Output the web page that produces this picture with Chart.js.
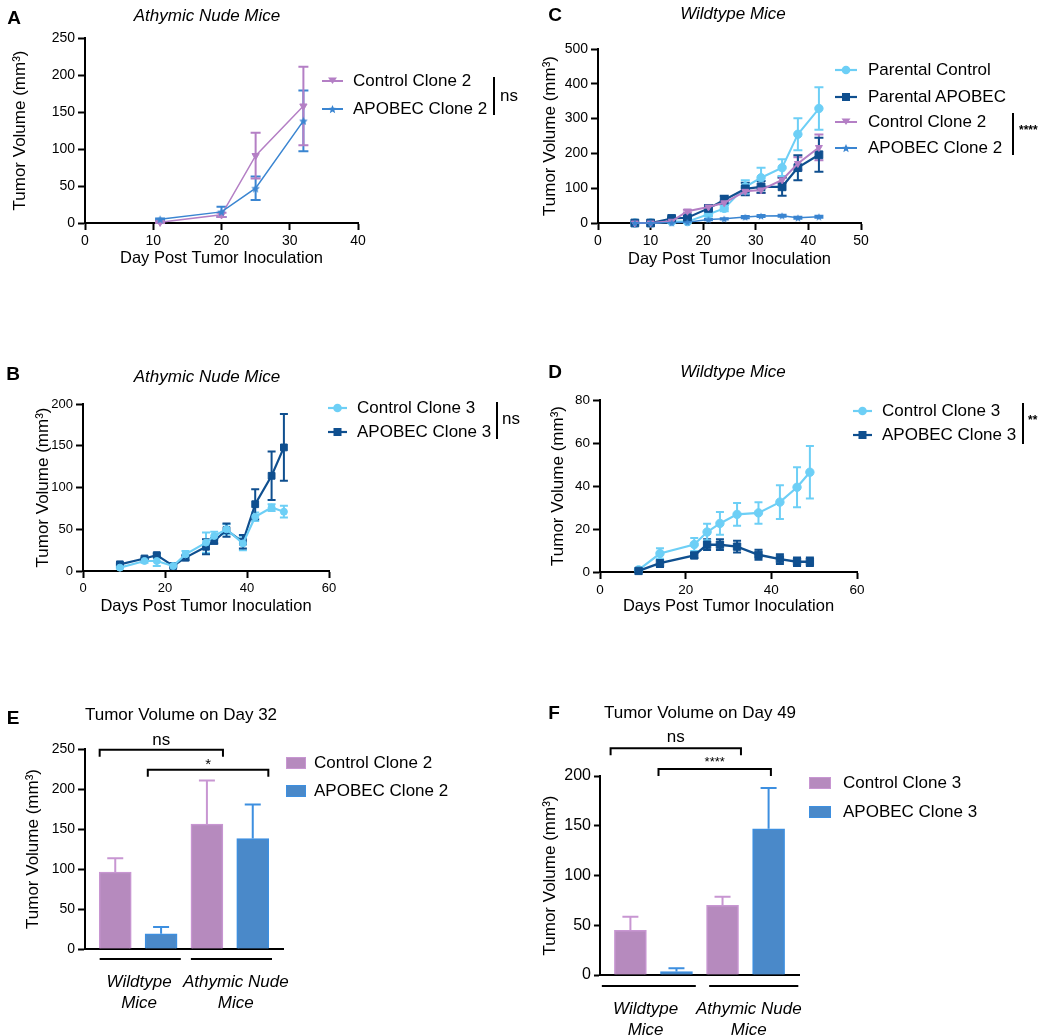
<!DOCTYPE html>
<html>
<head>
<meta charset="utf-8">
<script src="https://cdn.jsdelivr.net/npm/chart.js@4.4.1/dist/chart.umd.min.js"></script>
<style>
  body { margin: 0; background: #fff; }
  #page { position: relative; width: 1050px; height: 1035px; overflow: hidden;
          font-family: "Liberation Sans", Arial, Helvetica, sans-serif; color: #000; }
  #page canvas { position: absolute; }
  .lbl { position: absolute; white-space: nowrap; line-height: 1.15; transform: translate(-50%, -50%); }
  .lbl.left { transform: translate(0, -50%); }
  .vbar { position: absolute; width: 2px; background: #000; }
  .mk { position: absolute; }
</style>
</head>
<body>
<div id="page"></div>
<script>
// ---- data ------------------------------------------------------------

// A: athymic nude mice, clone 2
const daysA = [11, 20, 25, 32];
const ctrlClone2Nude = [1, 11, 91, 158];
const ctrlClone2NudeSem = [1, 3, 31, 53];
const apobecClone2Nude = [5, 15, 47, 138];
const apobecClone2NudeSem = [1, 7, 16, 41];
const xTicksA = [0, 10, 20, 30, 40];
const yTicksA = [0, 50, 100, 150, 200, 250];

// C: wildtype mice, parental + clone 2
const daysC = [7, 10, 14, 17, 21, 24, 28, 31, 35, 38, 42];
const parentalControl = [0, 0, 4, 4, 25, 42, 104, 130, 159, 255, 329];
const parentalControlSem = [0, 0, 2, 2, 5, 8, 19, 29, 24, 46, 61];
const parentalApobec = [0, 0, 13, 15, 42, 66, 98, 104, 104, 159, 196];
const parentalApobecSem = [0, 0, 3, 3, 6, 12, 18, 17, 26, 36, 49];
const ctrlClone2Wt = [0, 0, 5, 34, 46, 58, 91, 95, 124, 171, 217];
const ctrlClone2WtSem = [0, 0, 2, 4, 6, 6, 9, 9, 9, 18, 37];
const apobecClone2Wt = [0, 0, 1, 2, 10, 12, 17, 20, 21, 15, 18];
const apobecClone2WtSem = [0, 0, 0, 1, 2, 2, 3, 3, 3, 3, 3];
const xTicksC = [0, 10, 20, 30, 40, 50];
const yTicksC = [0, 100, 200, 300, 400, 500];

// B: athymic nude mice, clone 3
const daysB = [9, 15, 18, 22, 25, 30, 32, 35, 39, 42, 46, 49];
const ctrlClone3Nude = [4, 12, 12, 6, 20, 34, 42, 50, 33, 65, 76, 71];
const ctrlClone3NudeSem = [1, 2, 6, 1, 4, 12, 5, 6, 8, 5, 4, 7];
const apobecClone3Nude = [8, 15, 19, 6, 16, 29, 36, 49, 35, 80, 114, 148];
const apobecClone3NudeSem = [1, 1, 2, 1, 3, 9, 3, 8, 8, 18, 29, 40];
const xTicksB = [0, 20, 40, 60];
const yTicksB = [0, 50, 100, 150, 200];

// D: wildtype mice, clone 3
const daysD = [9, 14, 22, 25, 28, 32, 37, 42, 46, 49];
const ctrlClone3Wt = [1, 8.6, 12.8, 18.6, 22.6, 26.8, 27.5, 32.5, 39.4, 46.4];
const ctrlClone3WtSem = [0.5, 2.4, 3, 3.8, 5.3, 5.3, 5, 7.8, 9.3, 12.2];
const apobecClone3Wt = [0.5, 4.1, 7.7, 12.7, 12.7, 11.8, 8, 6, 4.8, 4.8];
const apobecClone3WtSem = [0.3, 1.8, 1.2, 2.5, 2.5, 2.7, 2.3, 2.3, 2, 2];
const xTicksD = [0, 20, 40, 60];
const yTicksD = [0, 20, 40, 60, 80];

// E / F: end point volumes, [wildtype, athymic nude]
const hostGroups = [['Wildtype', 'Mice'], ['Athymic Nude', 'Mice']];
const day32Control = [96, 156];
const day32ControlSem = [17.5, 54.5];
const day32Apobec = [19, 138];
const day32ApobecSem = [8.5, 42.5];
const day49Control = [45, 70];
const day49ControlSem = [13.5, 8.7];
const day49Apobec = [3.5, 147];
const day49ApobecSem = [3.2, 41];
const yTicksE = [0, 50, 100, 150, 200, 250];
const yTicksF = [0, 50, 100, 150, 200];

// ---- style -----------------------------------------------------------
const FONT = '"Liberation Sans", Arial, Helvetica, sans-serif';
const LIGHT = '#6dcff6';
const NAVY = '#0f4f8f';
const PURPLE = '#b47fc5';
const BLUE = '#3a85d1';
const BAR_PURPLE = '#b68abe', BAR_PURPLE_EDGE = '#c896d2';
const BAR_BLUE = '#4a89c9', BAR_BLUE_EDGE = '#3d8fe0';
const YTITLE = 'Tumor Volume (mm³)';

Chart.defaults.font.family = FONT;
Chart.defaults.color = '#000';

const page = document.getElementById('page');

function starImage(color, size) {
  const c = document.createElement('canvas');
  c.width = c.height = size;
  const g = c.getContext('2d');
  g.fillStyle = color;
  g.beginPath();
  starPath(size / 2, size / 2 + 0.5, size / 2).forEach(([x, y], i) => i ? g.lineTo(x, y) : g.moveTo(x, y));
  g.closePath();
  g.fill();
  return c;
}

function starPath(cx, cy, r) {
  const pts = [];
  for (let i = 0; i < 10; i++) {
    const a = -Math.PI / 2 + i * Math.PI / 5;
    const rr = i % 2 ? r * 0.45 : r;
    pts.push([cx + rr * Math.cos(a), cy + rr * Math.sin(a)]);
  }
  return pts;
}

// error bars (SEM) drawn under the marks
const errorBars = {
  id: 'errorBars',
  beforeDatasetsDraw(chart) {
    const ctx = chart.ctx;
    const ys = chart.scales.y;
    chart.data.datasets.forEach((ds, i) => {
      if (!ds.errors) return;
      const meta = chart.getDatasetMeta(i);
      ctx.save();
      ctx.strokeStyle = ds.errorColor || ds.borderColor;
      ctx.lineWidth = ds.errorWidth || 2;
      meta.data.forEach((el, j) => {
        const e = ds.errors[j];
        if (!e) return;
        const v = ds.data[j].y;
        const top = ys.getPixelForValue(v + e);
        const bot = ds.upOnly ? ys.getPixelForValue(v) : ys.getPixelForValue(v - e);
        const cap = ds.capWidth / 2;
        ctx.beginPath();
        ctx.moveTo(el.x, top); ctx.lineTo(el.x, bot);
        ctx.moveTo(el.x - cap, top); ctx.lineTo(el.x + cap, top);
        if (!ds.upOnly) { ctx.moveTo(el.x - cap, bot); ctx.lineTo(el.x + cap, bot); }
        ctx.stroke();
      });
      ctx.restore();
    });
  }
};

function addCanvas(panel) {
  const c = document.createElement('canvas');
  c.width = panel.w;
  c.height = panel.h;
  c.style.left = panel.x + 'px';
  c.style.top = panel.y + 'px';
  page.appendChild(c);
  return c;
}

function axisBase(size, tickLen, pad) {
  return {
    border: { display: true, color: '#000', width: 2 },
    grid: { display: true, drawOnChartArea: false, drawTicks: true, tickLength: tickLen, tickWidth: 2, tickColor: '#000' },
    ticks: { color: '#000', padding: pad, font: { size } }
  };
}

function yAxis(p, ticks) {
  const y = axisBase(p.tickSize, p.tickLen || 7, p.tickPad || 3);
  y.min = ticks[0];
  y.max = ticks[ticks.length - 1];
  y.ticks.stepSize = ticks[1] - ticks[0];
  y.title = { display: true, text: YTITLE, font: { size: 17 },
              padding: { top: p.yTitleX - p.panel.x - 17 * 1.2 / 2, bottom: 0 } };
  y.afterFit = s => { s.width = p.area.l - p.panel.x; };
  return y;
}

function lineSeries(label, days, vals, sems, color, marker, size, width, cap) {
  const ds = {
    label,
    data: days.map((d, i) => ({ x: d, y: vals[i] })),
    errors: sems,
    borderColor: color, backgroundColor: color,
    pointBackgroundColor: color, pointBorderColor: color, pointBorderWidth: 1,
    borderWidth: width, errorWidth: 2, capWidth: cap,
    pointRadius: size, clip: false, tension: 0
  };
  if (marker === 'star') ds.pointStyle = starImage(color, Math.round(size * 2.2));
  else if (marker === 'triDown') { ds.pointStyle = 'triangle'; ds.pointRotation = 180; }
  else if (marker === 'square') ds.pointStyle = 'rect';
  else ds.pointStyle = 'circle';
  return ds;
}

function makeLineChart(p) {
  const x = axisBase(p.tickSize, 7, 3);
  x.type = 'linear';
  x.min = p.xTicks[0];
  x.max = p.xTicks[p.xTicks.length - 1];
  x.ticks.stepSize = p.xTicks[1] - p.xTicks[0];
  x.ticks.maxRotation = 0;
  x.title = { display: true, text: p.xTitle, font: { size: 16.5 },
              padding: { top: 0, bottom: p.panel.y + p.panel.h - p.xTitleY - 16.5 * 1.2 / 2 } };
  x.afterFit = s => { s.height = p.panel.y + p.panel.h - p.area.b; };

  return new Chart(addCanvas(p.panel), {
    type: 'line',
    data: { datasets: p.datasets },
    options: {
      responsive: false, animation: false, events: [],
      layout: { padding: { left: 0, top: p.area.t - p.panel.y, right: p.panel.x + p.panel.w - p.area.r, bottom: 0 } },
      plugins: { legend: { display: false }, tooltip: { enabled: false } },
      scales: { x, y: yAxis(p, p.yTicks) }
    },
    plugins: [errorBars]
  });
}

// comparison brackets and group underlines for the bar panels
function barExtras(p) {
  return {
    id: 'barExtras',
    afterDraw(chart) {
      const { ctx, scales: { x, y } } = chart;
      ctx.save();
      ctx.strokeStyle = '#000';
      ctx.fillStyle = '#000';
      ctx.lineWidth = 2;
      p.brackets.forEach(b => {
        const x1 = x.getPixelForValue(b.from), x2 = x.getPixelForValue(b.to);
        const yy = y.getPixelForValue(b.level);
        ctx.beginPath();
        ctx.moveTo(x1, yy + 7); ctx.lineTo(x1, yy); ctx.lineTo(x2, yy); ctx.lineTo(x2, yy + 7);
        ctx.stroke();
        ctx.font = `${b.size}px ${FONT}`;
        ctx.textAlign = 'center';
        ctx.textBaseline = 'alphabetic';
        ctx.fillText(b.text, (x1 + x2) / 2, yy - b.gap);
      });
      const yy = chart.chartArea.bottom + p.underlineGap;
      p.underlines.forEach(([a, b]) => {
        ctx.beginPath();
        ctx.moveTo(x.getPixelForValue(a), yy);
        ctx.lineTo(x.getPixelForValue(b), yy);
        ctx.stroke();
      });
      ctx.restore();
    }
  };
}

function makeBarChart(p) {
  const barSet = (label, vals, sems, fill, edge, offset) => ({
    label,
    data: vals.map((v, i) => ({ x: i * 2 + offset, y: v })),
    errors: sems, upOnly: true, errorColor: edge, errorWidth: 2, capWidth: 16,
    backgroundColor: fill, borderColor: edge, borderWidth: 1.5,
    barThickness: 32, grouped: false
  });

  const x = {
    type: 'linear', min: 0.34, max: 4.66, offset: false,
    border: { display: true, color: '#000', width: 2 },
    grid: { display: false, offset: false },
    afterBuildTicks: s => { s.ticks = p.groupPos.map(v => ({ value: v })); },
    ticks: {
      color: '#000', padding: p.groupPad, autoSkip: false, maxRotation: 0, minRotation: 0,
      font: { size: 17, style: 'italic', lineHeight: 1.24 },
      callback: (v, i) => hostGroups[i]
    },
    afterFit: s => { s.height = p.panel.y + p.panel.h - p.area.b; }
  };

  return new Chart(addCanvas(p.panel), {
    type: 'bar',
    data: {
      datasets: [
        barSet(p.labels[0], p.ctrl, p.ctrlSem, BAR_PURPLE, BAR_PURPLE_EDGE, 1),
        barSet(p.labels[1], p.apobec, p.apobecSem, BAR_BLUE, BAR_BLUE_EDGE, 2)
      ]
    },
    options: {
      responsive: false, animation: false, events: [],
      layout: { padding: { left: 0, top: p.area.t - p.panel.y, right: p.panel.x + p.panel.w - p.area.r, bottom: 0 } },
      plugins: { legend: { display: false }, tooltip: { enabled: false } },
      scales: { x, y: yAxis(p, p.yTicks) }
    },
    plugins: [errorBars, barExtras(p)]
  });
}

// ---- html text and legends --------------------------------------------
function text(str, x, y, css, left) {
  const d = document.createElement('div');
  d.className = left ? 'lbl left' : 'lbl';
  d.textContent = str;
  d.style.left = x + 'px';
  d.style.top = y + 'px';
  Object.assign(d.style, css || {});
  page.appendChild(d);
  return d;
}

function vbar(x, y1, y2) {
  const d = document.createElement('div');
  d.className = 'vbar';
  d.style.left = (x - 1) + 'px';
  d.style.top = y1 + 'px';
  d.style.height = (y2 - y1) + 'px';
  page.appendChild(d);
}

function legendMarker(x1, x2, y, color, marker, lw) {
  const w = x2 - x1, cx = w / 2;
  let shape = '';
  if (marker === 'circle') shape = `<circle cx="${cx}" cy="8" r="4.3" fill="${color}"/>`;
  if (marker === 'square') shape = `<rect x="${cx - 4}" y="4" width="8" height="8" fill="${color}"/>`;
  if (marker === 'triDown') shape = `<polygon points="${cx - 4.5},4.5 ${cx + 4.5},4.5 ${cx},11" fill="${color}"/>`;
  if (marker === 'star') shape = `<polygon points="${starPath(cx, 8.5, 4.5).map(p => p.join(',')).join(' ')}" fill="${color}"/>`;
  const d = document.createElement('div');
  d.className = 'mk';
  d.style.left = x1 + 'px';
  d.style.top = (y - 8) + 'px';
  d.innerHTML = `<svg width="${w}" height="16"><line x1="0" y1="8" x2="${w}" y2="8" stroke="${color}" stroke-width="${lw}"/>${shape}</svg>`;
  page.appendChild(d);
}

function lineLegend(items, lx1, lx2, tx, ys) {
  items.forEach((it, i) => {
    legendMarker(lx1, lx2, ys[i], it.color, it.marker, it.lw);
    text(it.label, tx, ys[i], { fontSize: '17px' }, true);
  });
}

function swatch(x1, x2, y, fill, edge) {
  const d = document.createElement('div');
  d.className = 'mk';
  Object.assign(d.style, { left: x1 + 'px', top: (y - 6.5) + 'px', width: (x2 - x1 - 3) + 'px', height: '10px',
                           background: fill, border: '1.5px solid ' + edge });
  page.appendChild(d);
}

// ---- panels ----------------------------------------------------------
makeLineChart({
  panel: { x: 0, y: 0, w: 525, h: 275 }, area: { l: 85, t: 38, r: 358, b: 223 },
  xTicks: xTicksA, yTicks: yTicksA, tickSize: 14,
  xTitle: 'Day Post Tumor Inoculation', xTitleY: 258, yTitleX: 20,
  datasets: [
    lineSeries('APOBEC Clone 2', daysA, apobecClone2Nude, apobecClone2NudeSem, BLUE, 'star', 4, 1.5, 10),
    lineSeries('Control Clone 2', daysA, ctrlClone2Nude, ctrlClone2NudeSem, PURPLE, 'triDown', 4.2, 1.5, 10)
  ]
});

makeLineChart({
  panel: { x: 525, y: 0, w: 525, h: 275 }, area: { l: 598, t: 49, r: 861, b: 223 },
  xTicks: xTicksC, yTicks: yTicksC, tickSize: 14,
  xTitle: 'Day Post Tumor Inoculation', xTitleY: 259, yTitleX: 550,
  datasets: [
    lineSeries('APOBEC Clone 2', daysC, apobecClone2Wt, apobecClone2WtSem, BLUE, 'star', 3.8, 1.5, 9),
    lineSeries('Control Clone 2', daysC, ctrlClone2Wt, ctrlClone2WtSem, PURPLE, 'triDown', 4, 2, 9),
    lineSeries('Parental APOBEC', daysC, parentalApobec, parentalApobecSem, NAVY, 'square', 5.5, 2.2, 9),
    lineSeries('Parental Control', daysC, parentalControl, parentalControlSem, LIGHT, 'circle', 4.2, 2, 9)
  ]
});

makeLineChart({
  panel: { x: 0, y: 380, w: 525, h: 240 }, area: { l: 83, t: 404, r: 329, b: 571 },
  xTicks: xTicksB, yTicks: yTicksB, tickSize: 13,
  xTitle: 'Days Post Tumor Inoculation', xTitleY: 606, yTitleX: 43,
  datasets: [
    lineSeries('Control Clone 3', daysB, ctrlClone3Nude, ctrlClone3NudeSem, LIGHT, 'circle', 3.5, 2.2, 8),
    lineSeries('APOBEC Clone 3', daysB, apobecClone3Nude, apobecClone3NudeSem, NAVY, 'square', 4.8, 2.2, 8)
  ]
});

makeLineChart({
  panel: { x: 525, y: 380, w: 525, h: 240 }, area: { l: 600, t: 400, r: 857, b: 572 },
  xTicks: xTicksD, yTicks: yTicksD, tickSize: 13.5,
  xTitle: 'Days Post Tumor Inoculation', xTitleY: 606, yTitleX: 558,
  datasets: [
    lineSeries('APOBEC Clone 3', daysD, apobecClone3Wt, apobecClone3WtSem, NAVY, 'square', 5.2, 2.4, 8),
    lineSeries('Control Clone 3', daysD, ctrlClone3Wt, ctrlClone3WtSem, LIGHT, 'circle', 4.2, 2.2, 8)
  ]
});

makeBarChart({
  panel: { x: 0, y: 720, w: 525, h: 315 }, area: { l: 85, t: 749, r: 283, b: 949 },
  yTicks: yTicksE, tickSize: 14, yTitleX: 33,
  labels: ['Control Clone 2', 'APOBEC Clone 2'],
  ctrl: day32Control, ctrlSem: day32ControlSem, apobec: day32Apobec, apobecSem: day32ApobecSem,
  groupPos: [1.52, 3.63], groupPad: 14.5, underlineGap: 10,
  underlines: [[0.66, 2.43], [2.65, 4.42]],
  brackets: [
    { from: 0.66, to: 3.35, level: 249, text: 'ns', size: 17, gap: 5 },
    { from: 1.71, to: 4.34, level: 224, text: '*', size: 15, gap: 1 }
  ]
});

makeBarChart({
  panel: { x: 525, y: 720, w: 525, h: 315 }, area: { l: 600, t: 776, r: 799, b: 975 },
  yTicks: yTicksF, tickSize: 16, tickLen: 6, tickPad: 3, yTitleX: 550,
  labels: ['Control Clone 3', 'APOBEC Clone 3'],
  ctrl: day49Control, ctrlSem: day49ControlSem, apobec: day49Apobec, apobecSem: day49ApobecSem,
  groupPos: [1.33, 3.57], groupPad: 16, underlineGap: 11,
  underlines: [[0.38, 2.42], [2.71, 4.645]],
  brackets: [
    { from: 0.57, to: 3.4, level: 228, text: 'ns', size: 17, gap: 6 },
    { from: 1.61, to: 4.05, level: 207, text: '****', size: 13, gap: 3 }
  ]
});

// panel letters and titles
const letterCss = { fontSize: '19px', fontWeight: 'bold' };
text('A', 14, 18, letterCss);
text('C', 555, 15, letterCss);
text('B', 13, 374, letterCss);
text('D', 555, 372, letterCss);
text('E', 13, 718, letterCss);
text('F', 554, 713, letterCss);

const titleCss = { fontSize: '17px', fontStyle: 'italic' };
text('Athymic Nude Mice', 207, 16, titleCss);
text('Wildtype Mice', 733, 14, titleCss);
text('Athymic Nude Mice', 207, 377, titleCss);
text('Wildtype Mice', 733, 372, titleCss);
text('Tumor Volume on Day 32', 181, 715, { fontSize: '17px' });
text('Tumor Volume on Day 49', 700, 713, { fontSize: '17px' });

// legends
lineLegend([
  { label: 'Control Clone 2', color: PURPLE, marker: 'triDown', lw: 2 },
  { label: 'APOBEC Clone 2', color: BLUE, marker: 'star', lw: 2 }
], 322, 343, 353, [81, 109]);
vbar(494, 77, 115);
text('ns', 500, 96, { fontSize: '17px' }, true);

lineLegend([
  { label: 'Parental Control', color: LIGHT, marker: 'circle', lw: 2.2 },
  { label: 'Parental APOBEC', color: NAVY, marker: 'square', lw: 2.2 },
  { label: 'Control Clone 2', color: PURPLE, marker: 'triDown', lw: 2 },
  { label: 'APOBEC Clone 2', color: BLUE, marker: 'star', lw: 2 }
], 835, 857, 868, [70, 97, 122, 148]);
vbar(1013, 113, 155);
text('****', 1019, 131, { fontSize: '12px', fontWeight: 'bold' }, true);

lineLegend([
  { label: 'Control Clone 3', color: LIGHT, marker: 'circle', lw: 2.2 },
  { label: 'APOBEC Clone 3', color: NAVY, marker: 'square', lw: 2.2 }
], 328, 347, 357, [408, 432]);
vbar(497, 402, 439);
text('ns', 502, 419, { fontSize: '17px' }, true);

lineLegend([
  { label: 'Control Clone 3', color: LIGHT, marker: 'circle', lw: 2.2 },
  { label: 'APOBEC Clone 3', color: NAVY, marker: 'square', lw: 2.2 }
], 853, 872, 882, [411, 435]);
vbar(1023, 403, 444);
text('**', 1028, 421, { fontSize: '12px', fontWeight: 'bold' }, true);

swatch(286, 307, 763, BAR_PURPLE, BAR_PURPLE_EDGE);
swatch(286, 307, 791, BAR_BLUE, BAR_BLUE_EDGE);
text('Control Clone 2', 314, 763, { fontSize: '17px' }, true);
text('APOBEC Clone 2', 314, 791, { fontSize: '17px' }, true);

swatch(809, 832, 783, BAR_PURPLE, BAR_PURPLE_EDGE);
swatch(809, 832, 812, BAR_BLUE, BAR_BLUE_EDGE);
text('Control Clone 3', 843, 783, { fontSize: '17px' }, true);
text('APOBEC Clone 3', 843, 812, { fontSize: '17px' }, true);
</script>
</body>
</html>
